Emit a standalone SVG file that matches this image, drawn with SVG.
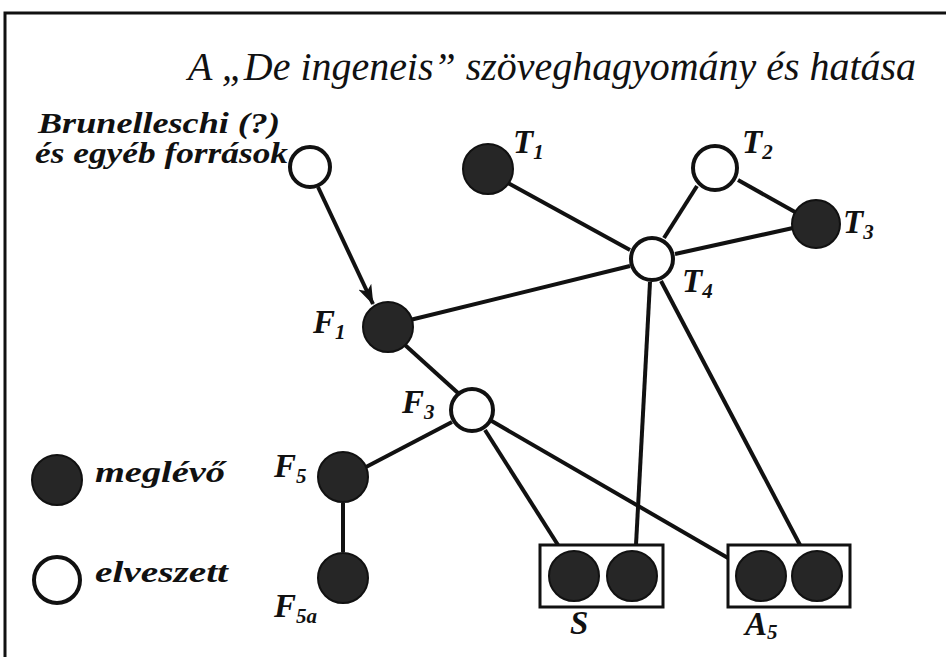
<svg xmlns="http://www.w3.org/2000/svg" width="946" height="657" viewBox="0 0 946 657">
<style>
text{font-family:"Liberation Serif","DejaVu Serif",serif;font-style:italic;fill:#111;}
.t{font-size:40px;}
.s{font-size:30px;font-weight:bold;}
.lb{font-size:33px;font-weight:bold;}
.sub{font-size:21px;}
.full{fill:#262626;stroke:#111;stroke-width:2;}
.open{fill:#fff;stroke:#111;stroke-width:4;}
.box{fill:#fff;stroke:#111;stroke-width:3;}
.c line{stroke:#111;stroke-width:4;}
.frame{stroke:#111;stroke-width:3;fill:none;}
</style>
<defs>
<marker id="arr" markerWidth="20" markerHeight="14" refX="19" refY="7" orient="auto" markerUnits="userSpaceOnUse" viewBox="0 0 20 14">
<path d="M0,0 L20,7 L0,14 L5,7 Z" fill="#111"/>
</marker>
</defs>
<rect width="946" height="657" fill="#fff"/>
<path class="frame" d="M5,657 L5,13 L946,13"/>
<text class="t" x="188" y="80" textLength="728" lengthAdjust="spacingAndGlyphs">A „De ingeneis” szöveghagyomány és hatása</text>

<g class="c" id="connectors">
<line x1="318" y1="187" x2="373" y2="304" marker-end="url(#arr)"/>
<line x1="410" y1="320" x2="630" y2="266"/>
<line x1="508" y1="183" x2="630" y2="250"/>
<line x1="697" y1="186" x2="664" y2="238"/>
<line x1="738" y1="180" x2="795" y2="212"/>
<line x1="793" y1="228" x2="675" y2="254"/>
<line x1="405" y1="345" x2="458" y2="393"/>
<line x1="452" y1="422" x2="366" y2="467"/>
<line x1="343" y1="503" x2="343" y2="552"/>
<line x1="485" y1="430" x2="558" y2="545"/>
<line x1="490" y1="420" x2="728" y2="558"/>
<line x1="650" y1="282" x2="636" y2="545"/>
<line x1="661" y1="281" x2="800" y2="545"/>
</g>

<g id="brunelleschi">
<circle class="open" cx="310" cy="167" r="20"/>
<text class="s" x="38" y="133" textLength="242" lengthAdjust="spacingAndGlyphs">Brunelleschi (?)</text>
<text class="s" x="35" y="163" textLength="253" lengthAdjust="spacingAndGlyphs">és egyéb források</text>
</g>
<g id="F1">
<circle class="full" cx="388" cy="327" r="25"/>
<text class="lb" x="313" y="333">F<tspan class="sub" dy="6">1</tspan></text>
</g>
<g id="T1">
<circle class="full" cx="488" cy="169" r="25"/>
<text class="lb" x="513" y="153">T<tspan class="sub" dy="6">1</tspan></text>
</g>
<g id="T2">
<circle class="open" cx="715" cy="168" r="22"/>
<text class="lb" x="742" y="153">T<tspan class="sub" dy="6">2</tspan></text>
</g>
<g id="T3">
<circle class="full" cx="816" cy="224" r="24"/>
<text class="lb" x="843" y="233">T<tspan class="sub" dy="6">3</tspan></text>
</g>
<g id="T4">
<circle class="open" cx="652" cy="259" r="21"/>
<text class="lb" x="682" y="292">T<tspan class="sub" dy="6">4</tspan></text>
</g>
<g id="F3">
<circle class="open" cx="472" cy="410" r="21"/>
<text class="lb" x="402" y="413">F<tspan class="sub" dy="6">3</tspan></text>
</g>
<g id="F5">
<circle class="full" cx="343" cy="477" r="25"/>
<text class="lb" x="274" y="477">F<tspan class="sub" dy="6">5</tspan></text>
</g>
<g id="F5a">
<circle class="full" cx="343" cy="578" r="25"/>
<text class="lb" x="274" y="617">F<tspan class="sub" dy="6">5a</tspan></text>
</g>
<g id="S">
<rect class="box" x="540" y="545" width="123" height="62"/>
<circle class="full" cx="574" cy="576" r="25"/>
<circle class="full" cx="632" cy="576" r="25"/>
<text class="lb" x="570" y="634">S</text>
</g>
<g id="A5">
<rect class="box" x="728" y="545" width="122" height="62"/>
<circle class="full" cx="761" cy="576" r="25"/>
<circle class="full" cx="817" cy="576" r="25"/>
<text class="lb" x="745" y="635">A<tspan class="sub" dy="4">5</tspan></text>
</g>
<g id="legend">
<circle class="full" cx="57" cy="480" r="25"/>
<text class="s" x="95" y="482" textLength="130" lengthAdjust="spacingAndGlyphs">meglévő</text>
<circle class="open" cx="57" cy="580" r="23"/>
<text class="s" x="95" y="582" textLength="133" lengthAdjust="spacingAndGlyphs">elveszett</text>
</g>
</svg>
